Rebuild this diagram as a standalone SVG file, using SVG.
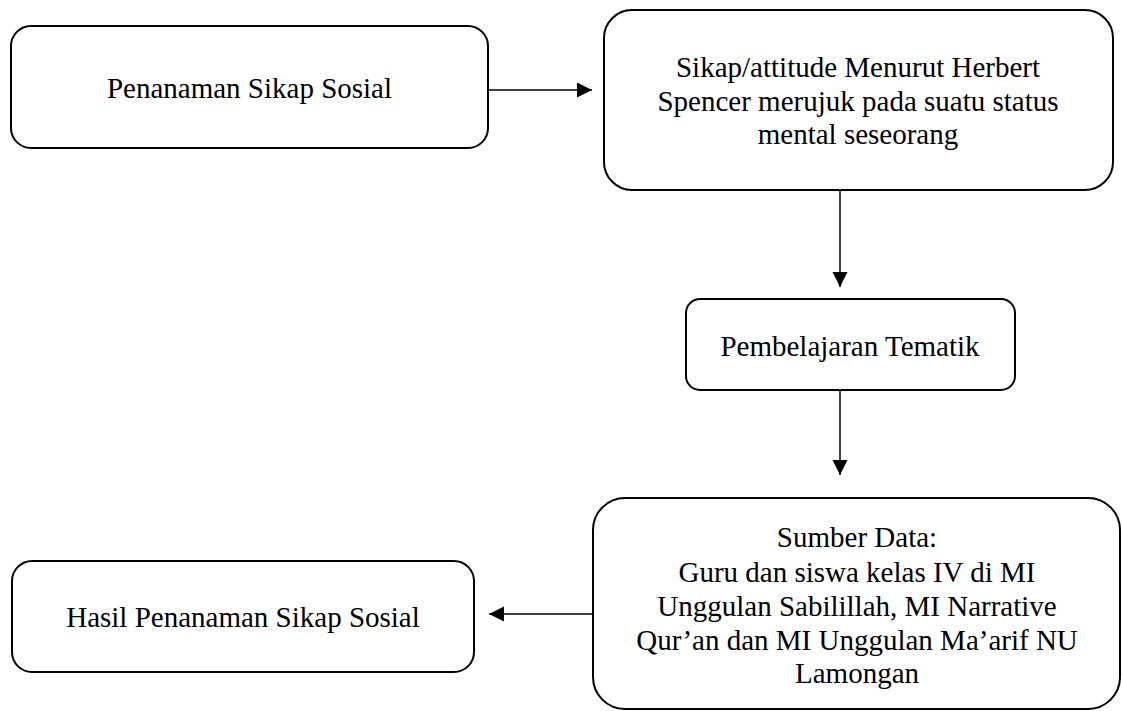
<svg xmlns="http://www.w3.org/2000/svg" width="1122" height="711" viewBox="0 0 1122 711">
<style>
.box{fill:#fff;stroke:#000;stroke-width:2}
.t{font-family:"Liberation Serif","Times New Roman",serif;font-size:29px;fill:#000;text-anchor:middle}
.c{stroke:#000;stroke-width:1.5;fill:none}
</style>
<defs>
<marker id="ah" markerWidth="16" markerHeight="16" refX="15" refY="7.5" orient="auto" markerUnits="userSpaceOnUse">
<path d="M0,0 L15,7.5 L0,15 Z" fill="#000"/>
</marker>
</defs>
<rect width="1122" height="711" fill="#fff"/>
<g id="connectors">
<line class="c" x1="489" y1="90" x2="592" y2="90" marker-end="url(#ah)"/>
<line class="c" x1="840" y1="191" x2="840" y2="287" marker-end="url(#ah)"/>
<line class="c" x1="840" y1="391" x2="840" y2="475" marker-end="url(#ah)"/>
<line class="c" x1="592" y1="614" x2="489" y2="614" marker-end="url(#ah)"/>
</g>
<g id="node1">
<rect class="box" x="11" y="26" width="477" height="122" rx="20" ry="20"/>
<text class="t" x="249.5" y="98">Penanaman Sikap Sosial</text>
</g>
<g id="node2">
<rect class="box" x="604" y="10" width="509" height="180" rx="28" ry="28"/>
<text class="t" x="858" y="77">Sikap/attitude Menurut Herbert</text>
<text class="t" x="858" y="111">Spencer merujuk pada suatu status</text>
<text class="t" x="858" y="144">mental seseorang</text>
</g>
<g id="node3">
<rect class="box" x="686" y="299" width="329" height="91" rx="14" ry="14"/>
<text class="t" x="850" y="356">Pembelajaran Tematik</text>
</g>
<g id="node4">
<rect class="box" x="593" y="498" width="527" height="211" rx="32" ry="32"/>
<text class="t" x="857" y="547">Sumber Data:</text>
<text class="t" x="857" y="582">Guru dan siswa kelas IV di MI</text>
<text class="t" x="857" y="616">Unggulan Sabilillah, MI Narrative</text>
<text class="t" x="857" y="650">Qur’an dan MI Unggulan Ma’arif NU</text>
<text class="t" x="857" y="683">Lamongan</text>
</g>
<g id="node5">
<rect class="box" x="12" y="561" width="462" height="111" rx="20" ry="20"/>
<text class="t" x="243" y="627">Hasil Penanaman Sikap Sosial</text>
</g>
</svg>
